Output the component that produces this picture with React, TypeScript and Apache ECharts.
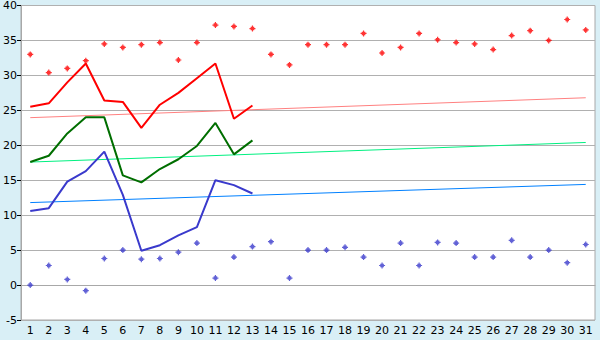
import React, { useEffect, useRef } from "react";
import * as echarts from "echarts";

const days = Array.from({ length: 31 }, (_, i) => String(i + 1));

const redPoints = [33.0, 30.4, 31.0, 32.1, 34.5, 34.0, 34.4, 34.7, 32.2, 34.7, 37.2, 37.0, 36.7, 33.0, 31.5, 34.4, 34.4, 34.4, 36.0, 33.2, 34.0, 36.0, 35.1, 34.7, 34.5, 33.7, 35.7, 36.4, 35.0, 38.0, 36.5];
const bluePoints = [0.0, 2.8, 0.8, -0.8, 3.8, 5.0, 3.7, 3.8, 4.7, 6.0, 1.0, 4.0, 5.5, 6.2, 1.0, 5.0, 5.0, 5.4, 4.0, 2.8, 6.0, 2.8, 6.1, 6.0, 4.0, 4.0, 6.4, 4.0, 5.0, 3.2, 5.8];

const redLine = [25.5, 26.0, 29.0, 31.7, 26.4, 26.2, 22.5, 25.8, 27.5, 29.6, 31.7, 23.8, 25.7];
const greenLine = [17.6, 18.5, 21.7, 24.0, 24.0, 15.7, 14.7, 16.6, 18.0, 19.9, 23.2, 18.7, 20.7];
const blueLine = [10.6, 11.0, 14.8, 16.3, 19.1, 12.9, 4.9, 5.7, 7.1, 8.3, 15.0, 14.3, 13.1];

const redTrend = [23.95, 26.8];
const greenTrend = [17.6, 20.4];
const blueTrend = [11.8, 14.4];

const trendData = (ends: number[]) =>
  days.map((_, i) => (i === 0 ? ends[0] : i === days.length - 1 ? ends[1] : null));

const marker =
  "path://M2,0L3,0L3,1L4,1L4,2L5,2L5,3L4,3L4,4L3,4L3,5L2,5L2,4L1,4L1,3L0,3L0,2L1,2L1,1L2,1Z";

export default function App() {
  const ref = useRef<HTMLDivElement>(null);
  useEffect(() => {
    document.body.style.margin = "0";
    const chart = echarts.init(ref.current!, undefined, { renderer: "svg" });
    const lineBase = (color: string, data: (number | null)[], width: number) => ({
      type: "line",
      data,
      symbol: "none",
      connectNulls: true,
      lineStyle: { color, width },
      itemStyle: { color },
      z: 3,
    });
    chart.setOption({
      animation: false,
      backgroundColor: "#d9eff6",
      textStyle: { fontFamily: "DejaVu Sans" },
      grid: {
        left: 20,
        right: 5,
        top: 5,
        bottom: 20,
        show: true,
        backgroundColor: "#ffffff",
        borderColor: "#a8a8a8",
        borderWidth: 1,
      },
      xAxis: {
        type: "category",
        data: days,
        boundaryGap: true,
        axisLine: { lineStyle: { color: "#a8a8a8", width: 1 } },
        axisTick: { alignWithLabel: true, length: 4, lineStyle: { color: "#000" } },
        axisLabel: { color: "#000", fontSize: 11, margin: 5, interval: 0 },
        splitLine: { show: false },
      },
      yAxis: {
        type: "value",
        min: -5,
        max: 40,
        interval: 5,
        axisLine: { show: true, lineStyle: { color: "#a8a8a8", width: 1 } },
        axisTick: { show: true, length: 4, lineStyle: { color: "#000" } },
        axisLabel: { color: "#000", fontSize: 11, margin: 4 },
        splitLine: { lineStyle: { color: "#b0b0b0", width: 1 } },
      },
      series: [
        lineBase("#ff8080", trendData(redTrend), 1),
        lineBase("#00f080", trendData(greenTrend), 1),
        lineBase("#0080ff", trendData(blueTrend), 1),
        lineBase("#ff0000", redLine, 2),
        lineBase("#006e00", greenLine, 2),
        lineBase("#3a3acc", blueLine, 2),
        {
          type: "scatter",
          data: redPoints,
          symbol: marker,
          symbolSize: 6,
          itemStyle: { color: "#ff0000" },
          z: 4,
        },
        {
          type: "scatter",
          data: bluePoints,
          symbol: marker,
          symbolSize: 6,
          itemStyle: { color: "#3a3acc" },
          z: 4,
        },
      ],
    });
    return () => chart.dispose();
  }, []);
  return (
    <div
      ref={ref}
      style={{ position: "absolute", left: 0, top: 0, width: 600, height: 340 }}
    />
  );
}
